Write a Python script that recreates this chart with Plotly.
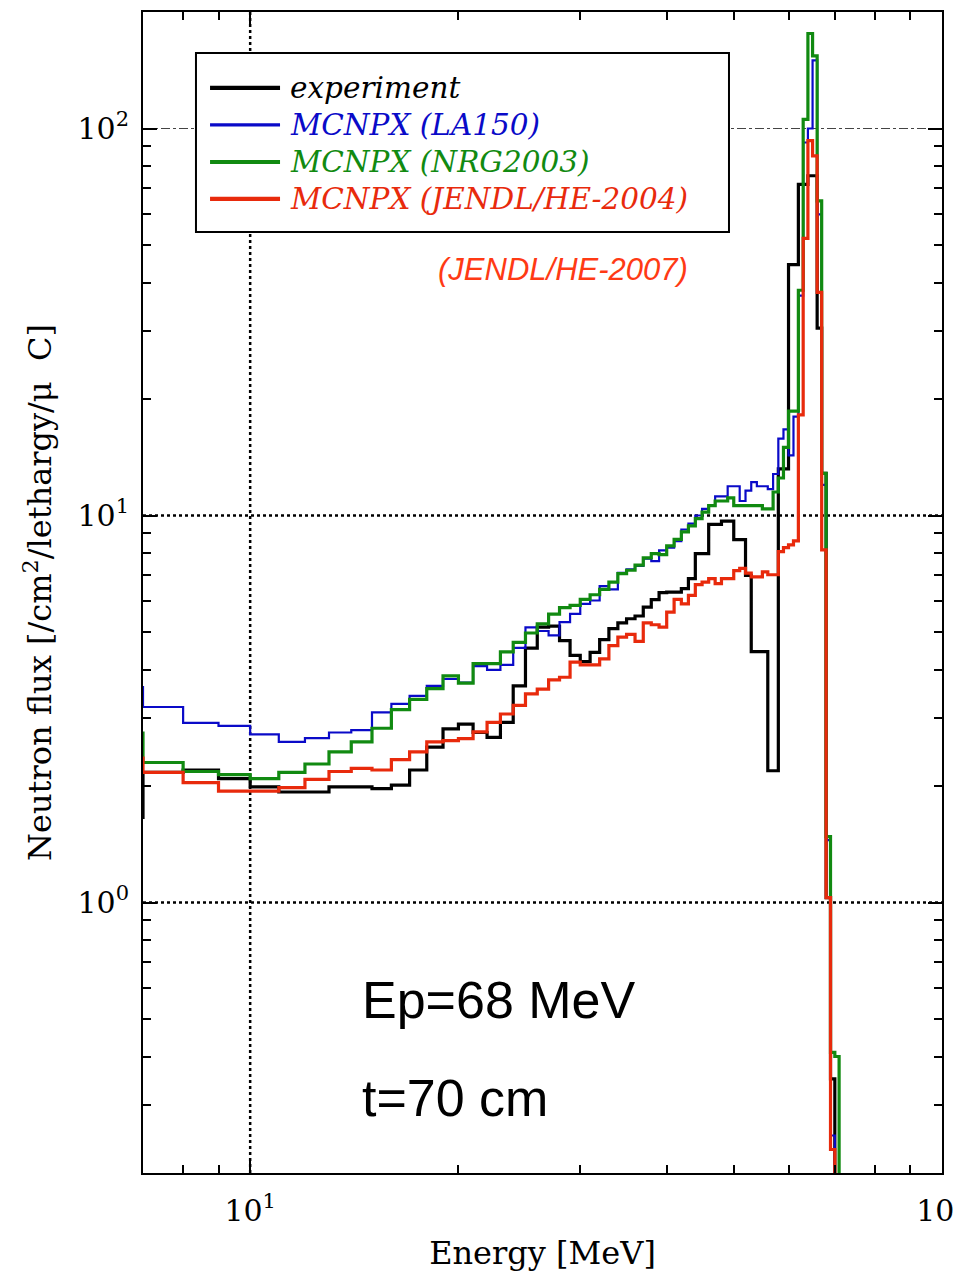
import math
import plotly.graph_objects as go

# ---------------- data (1 MeV wide energy bins, lower edges) ----------------
BIN_LOW = list(range(6, 72))          # MeV
BIN_WIDTH = 1

experiment = [1.66, 2.17, 2.20, 2.09, 1.99, 1.93, 1.93, 1.99, 1.99, 1.97,
              2.01, 2.20, 2.52, 2.81, 2.89, 2.75, 2.67, 2.92, 3.63, 4.54,
              5.15, 5.18, 4.75, 4.35, 4.19, 4.43, 4.78, 5.10, 5.28, 5.41,
              5.50, 5.80, 6.06, 6.32, 6.34, 6.34, 6.47, 6.87, 7.97, 7.97,
              9.48, 9.48, 9.67, 9.67, 8.66, 8.66, 7.00, 4.45, 4.45, 4.45,
              2.19, 2.19, 13.2, 13.2, 44.5, 44.5, 71.7, 71.7, 75.5, 75.5,
              30.5, 12.85, 1.03, 0.35, 0.1, 0.1]

la150 = [3.60, 3.20, 2.91, 2.86, 2.72, 2.60, 2.66, 2.75, 2.79, 3.10,
         3.26, 3.42, 3.63, 3.78, 3.70, 4.08, 3.99, 4.11, 4.55, 5.14,
         5.03, 4.90, 5.30, 5.57, 5.91, 6.03, 6.57, 6.44, 7.11, 7.26,
         7.41, 7.74, 7.62, 8.13, 8.26, 8.58, 9.20, 9.53, 10.0, 10.4,
         10.6, 11.2, 11.2, 11.9, 11.9, 10.9, 11.6, 12.2, 11.9, 11.9,
         11.7, 12.8, 15.8, 16.7, 14.3, 18.0, 37.0, 92.0, 100.0, 150.0,
         60.0, 12.0, 1.45, 0.25, 0.1, 0.1]

nrg2003 = [2.74, 2.30, 2.18, 2.14, 2.09, 2.17, 2.28, 2.45, 2.60, 2.82,
           3.15, 3.35, 3.57, 3.85, 3.69, 4.14, 4.14, 4.44, 4.70, 4.97,
           5.25, 5.56, 5.78, 5.86, 6.07, 6.24, 6.44, 6.73, 7.08, 7.22,
           7.44, 7.77, 7.97, 7.92, 8.35, 8.68, 9.07, 9.40, 9.82, 10.2,
           10.6, 10.9, 10.9, 11.1, 10.6, 10.6, 10.6, 10.6, 10.6, 10.4,
           10.4, 11.5, 12.5, 15.0, 18.6, 18.6, 38.2, 105.6, 176.0, 154.0,
           65.0, 12.85, 1.48, 0.41, 0.40, 0.1]

jendl = [2.36, 2.17, 2.04, 1.94, 1.94, 1.98, 2.08, 2.18, 2.22, 2.20,
         2.34, 2.45, 2.60, 2.62, 2.65, 2.76, 2.92, 3.07, 3.23, 3.46,
         3.56, 3.76, 3.82, 4.18, 4.11, 4.11, 4.26, 4.61, 4.85, 4.93,
         4.73, 5.28, 5.22, 5.15, 5.63, 6.07, 5.91, 6.22, 6.63, 6.73,
         6.87, 6.67, 6.87, 6.87, 7.20, 7.30, 7.10, 6.94, 6.94, 7.15,
         7.03, 7.03, 8.07, 8.26, 8.40, 8.60, 18.2, 52.0, 93.0, 85.0,
         37.7, 8.15, 1.03, 0.23, 0.1, 0.1]

SERIES = [
    ("experiment", experiment, "#000000", 3.2),
    ("MCNPX (LA150)", la150, "#0a0ac8", 2.2),
    ("MCNPX (NRG2003)", nrg2003, "#118a11", 3.2),
    ("MCNPX (JENDL/HE-2004)", jendl, "#e82a0c", 3.2),
]

X_TICKS = [10, 100]
X_TICKTEXT = ["10<sup>1</sup>", "10<sup>2</sup>"]
Y_TICKS = [1, 10, 100]
Y_TICKTEXT = ["10<sup>0</sup>", "10<sup>1</sup>", "10<sup>2</sup>"]
X_MINOR = [7, 8, 9, 20, 30, 40, 50, 60, 70, 80, 90]
Y_MINOR = [0.2, 0.3, 0.4, 0.5, 0.6, 0.7, 0.8, 0.9,
           2, 3, 4, 5, 6, 7, 8, 9, 20, 30, 40, 50, 60, 70, 80, 90, 200]

SERIF = "DejaVu Serif"
SANS = "Liberation Sans, Arial"

fig = go.Figure()
for name, vals, color, width in SERIES:
    xs = BIN_LOW + [BIN_LOW[-1] + BIN_WIDTH]
    ys = vals + [vals[-1]]
    fig.add_trace(go.Scatter(x=xs, y=ys, mode="lines", name=name,
                             line=dict(color=color, width=width, shape="hv"),
                             showlegend=False))

axis_common = dict(
    type="log", showgrid=False, zeroline=False, automargin=False,
    showline=True, linecolor="black", linewidth=2, mirror="allticks",
    ticks="inside", ticklen=14, tickwidth=2, tickcolor="black",
    ticklabeloverflow="allow",
    tickfont=dict(family=SERIF, size=30, color="black"),
)

fig.update_layout(
    width=955, height=1272,
    margin=dict(l=143, r=13, t=12, b=99),
    plot_bgcolor="white", paper_bgcolor="white",
    xaxis=dict(axis_common,
               range=[math.log10(7), 2],
               tickmode="array", tickvals=X_TICKS, ticktext=X_TICKTEXT,
               ticklabelstandoff=10,
               minor=dict(tickmode="array", tickvals=X_MINOR, ticks="inside",
                          ticklen=8, tickwidth=1.5, tickcolor="black"),
               title=dict(text="Energy [MeV]", standoff=18,
                          font=dict(family=SERIF, size=32, color="black"))),
    yaxis=dict(axis_common,
               range=[math.log10(0.2), math.log10(200)],
               tickmode="array", tickvals=Y_TICKS, ticktext=Y_TICKTEXT,
               ticklabelstandoff=6,
               minor=dict(tickmode="array", tickvals=Y_MINOR, ticks="inside",
                          ticklen=8, tickwidth=1.5, tickcolor="black"),
               title=dict(text="Neutron flux [/cm<sup>2</sup>/lethargy/\u03bc  C]",
                          standoff=16,
                          font=dict(family=SERIF, size=32, color="black"))),
)

shapes = []
# grid lines
for yv in (1, 10):
    shapes.append(dict(type="line", xref="paper", yref="y", x0=0, x1=1, y0=yv, y1=yv,
                       line=dict(color="black", width=2.5, dash="dot"), layer="below"))
shapes.append(dict(type="line", xref="paper", yref="y", x0=0, x1=1, y0=100, y1=100,
                   line=dict(color="#444444", width=1.2, dash="dashdot"), layer="below"))
shapes.append(dict(type="line", xref="x", yref="paper", x0=10, x1=10, y0=0, y1=1,
                   line=dict(color="black", width=2.5, dash="dot"), layer="below"))
# legend box
shapes.append(dict(type="rect", xref="paper", yref="paper",
                   x0=0.0663, x1=0.7334, y0=0.8105, y1=0.9647,
                   line=dict(color="black", width=2), fillcolor="white", layer="above"))

annotations = []
leg_y = [0.9346, 0.9027, 0.8708, 0.8390]
for (name, vals, color, width), yy in zip(SERIES, leg_y):
    shapes.append(dict(type="line", xref="paper", yref="paper",
                       x0=0.0839, x1=0.1715, y0=yy, y1=yy,
                       line=dict(color=color, width=width + 1), layer="above"))
    annotations.append(dict(xref="paper", yref="paper", x=0.1815, y=yy,
                            xanchor="left", yanchor="middle", showarrow=False,
                            text="<i>" + name + "</i>",
                            font=dict(family=SERIF, size=29.5, color=color)))

annotations.append(dict(xref="paper", yref="paper", x=0.5257, y=0.7778,
                        xanchor="center", yanchor="middle", showarrow=False,
                        text="<i>(JENDL/HE-2007)</i>",
                        font=dict(family=SANS, size=31, color="#ff3a14")))
annotations.append(dict(xref="paper", yref="paper", x=0.272, y=0.149,
                        xanchor="left", yanchor="middle", showarrow=False,
                        text="Ep=68 MeV",
                        font=dict(family=SANS, size=52, color="black")))
annotations.append(dict(xref="paper", yref="paper", x=0.272, y=0.0646,
                        xanchor="left", yanchor="middle", showarrow=False,
                        text="t=70 cm",
                        font=dict(family=SANS, size=52, color="black")))

fig.update_layout(shapes=shapes, annotations=annotations)

fig.write_html("out.html")
